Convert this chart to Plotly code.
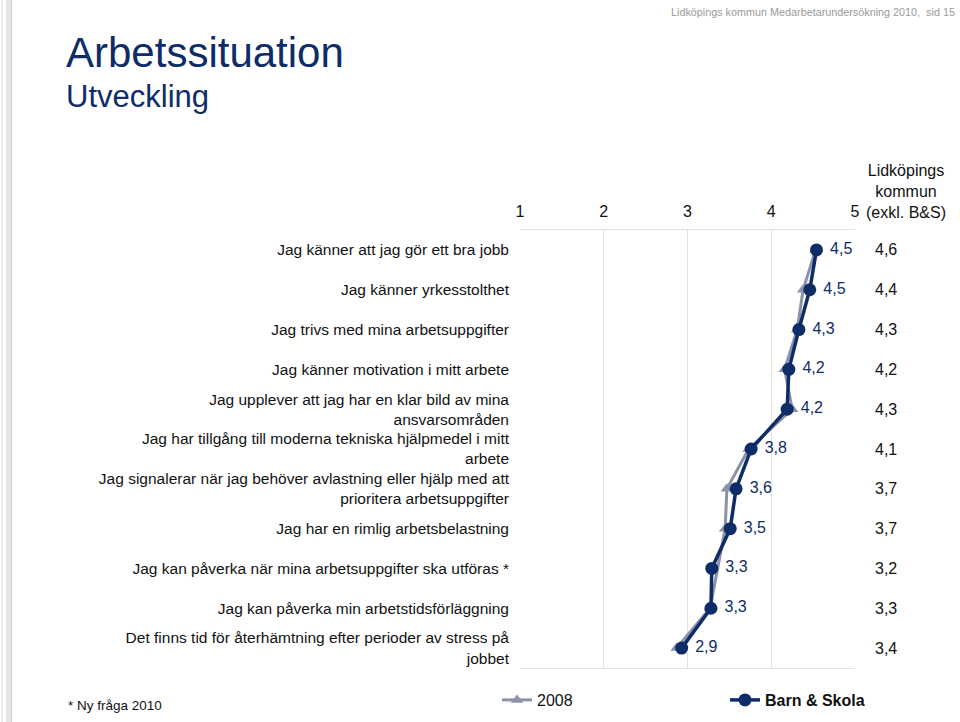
import plotly.graph_objects as go

categories = [
    "Jag känner att jag gör ett bra jobb",
    "Jag känner yrkesstolthet",
    "Jag trivs med mina arbetsuppgifter",
    "Jag känner motivation i mitt arbete",
    "Jag upplever att jag har en klar bild av mina<br>ansvarsområden",
    "Jag har tillgång till moderna tekniska hjälpmedel i mitt<br>arbete",
    "Jag signalerar när jag behöver avlastning eller hjälp med att<br>prioritera arbetsuppgifter",
    "Jag har en rimlig arbetsbelastning",
    "Jag kan påverka när mina arbetsuppgifter ska utföras *",
    "Jag kan påverka min arbetstidsförläggning",
    "Det finns tid för återhämtning efter perioder av stress på<br>jobbet",
]
barn_skola = [4.54, 4.46, 4.33, 4.21, 4.19, 3.76, 3.58, 3.51, 3.29, 3.28, 2.93]
year_2008 = [4.53, 4.38, 4.31, 4.16, 4.25, 3.73, 3.47, 3.45, None, 3.27, 2.87]
kommun = [4.6, 4.4, 4.3, 4.2, 4.3, 4.1, 3.7, 3.7, 3.2, 3.3, 3.4]
x_ticks = [1, 2, 3, 4, 5]

NAVY = "#0e2c68"
GRAY = "#8c92aa"
FONT = "Liberation Sans, Arial, sans-serif"

W, H = 960, 722
def px(x):
    return x / W
def py(y):
    return 1 - y / H

pos = list(range(len(categories)))

fig = go.Figure()
fig.add_trace(go.Scatter(
    x=year_2008, y=pos, mode="lines+markers", name="2008",
    connectgaps=True,
    line=dict(color=GRAY, width=3),
    marker=dict(symbol="triangle-up", size=11, color=GRAY),
    cliponaxis=False,
))
fig.add_trace(go.Scatter(
    x=barn_skola, y=pos, mode="lines+markers+text", name="<b>Barn & Skola</b>",
    line=dict(color=NAVY, width=3.5),
    marker=dict(symbol="circle", size=13, color=NAVY),
    text=[" " + f"{v:.1f}".replace(".", ",") for v in barn_skola],
    textposition="middle right",
    textfont=dict(color=NAVY, size=16, family=FONT),
    cliponaxis=False,
))

annotations = []
for i, v in enumerate(kommun):
    annotations.append(dict(
        x=px(886), xref="paper", y=i, yref="y",
        text=f"{v:.1f}".replace(".", ","), showarrow=False,
        font=dict(size=16, color="#111111", family=FONT),
        xanchor="center", yanchor="middle",
    ))
annotations += [
    dict(x=px(906), xref="paper", y=py(191), yref="paper",
         text="Lidköpings<br>kommun<br>(exkl. B&S)", showarrow=False,
         font=dict(size=16, color="#111111", family=FONT),
         xanchor="center", yanchor="middle"),
    dict(x=px(64), xref="paper", y=py(53), yref="paper",
         text="Arbetssituation", showarrow=False,
         font=dict(size=42, color=NAVY, family=FONT),
         xanchor="left", yanchor="middle"),
    dict(x=px(64), xref="paper", y=py(97), yref="paper",
         text="Utveckling", showarrow=False,
         font=dict(size=31, color=NAVY, family=FONT),
         xanchor="left", yanchor="middle"),
    dict(x=px(957), xref="paper", y=py(12), yref="paper",
         text="Lidköpings kommun Medarbetarundersökning 2010,  sid 15", showarrow=False,
         font=dict(size=10.8, color="#9a9a9a", family=FONT),
         xanchor="right", yanchor="middle"),
    dict(x=px(66), xref="paper", y=py(705), yref="paper",
         text="* Ny fråga 2010", showarrow=False,
         font=dict(size=13.5, color="#111111", family=FONT),
         xanchor="left", yanchor="middle"),
]

shapes = [
    dict(type="rect", xref="paper", yref="paper", x0=px(6), x1=px(11), y0=0, y1=1,
         fillcolor="#e4e4e4", line=dict(width=0), layer="below"),
    dict(type="line", xref="paper", yref="paper", x0=px(2), x1=px(2), y0=0, y1=1,
         line=dict(color="#d8d8d8", width=1), layer="below"),
    dict(type="line", xref="paper", yref="paper", x0=px(11.5), x1=px(11.5), y0=0, y1=1,
         line=dict(color="#d0d0d0", width=1), layer="below"),
]

fig.update_layout(
    width=W, height=H,
    margin=dict(l=0, r=0, t=0, b=0, autoexpand=False),
    paper_bgcolor="white", plot_bgcolor="white",
    font=dict(family=FONT, size=15, color="#111111"),
    showlegend=True,
    legend=dict(orientation="h", x=px(497), y=py(700), xanchor="left", yanchor="middle",
                entrywidth=183, entrywidthmode="pixels",
                font=dict(size=16, color="#111111", family=FONT),
                itemwidth=30, traceorder="normal", bgcolor="rgba(0,0,0,0)"),
    xaxis=dict(
        domain=[px(520), px(855)], range=[1, 5], side="top",
        tickvals=x_ticks, ticktext=[str(t) for t in x_ticks],
        showgrid=True, gridcolor="#e2e2e2", gridwidth=1,
        showline=True, linecolor="#e2e2e2", mirror=True,
        zeroline=False, ticks="", tickfont=dict(size=16, color="#111111"),
        ticklabelstandoff=6, automargin=False,
    ),
    yaxis=dict(
        domain=[py(668), py(230)], range=[10.5, -0.5],
        tickvals=pos, ticktext=categories,
        showgrid=False, zeroline=False, showline=False, ticks="",
        tickfont=dict(size=15.5, color="#111111"),
        ticklabelstandoff=10, automargin=False,
    ),
    annotations=annotations,
    shapes=shapes,
)

fig.write_html("out.html", config={"displayModeBar": False},
               post_script="document.body.style.margin='0';document.body.style.overflow='hidden';")
